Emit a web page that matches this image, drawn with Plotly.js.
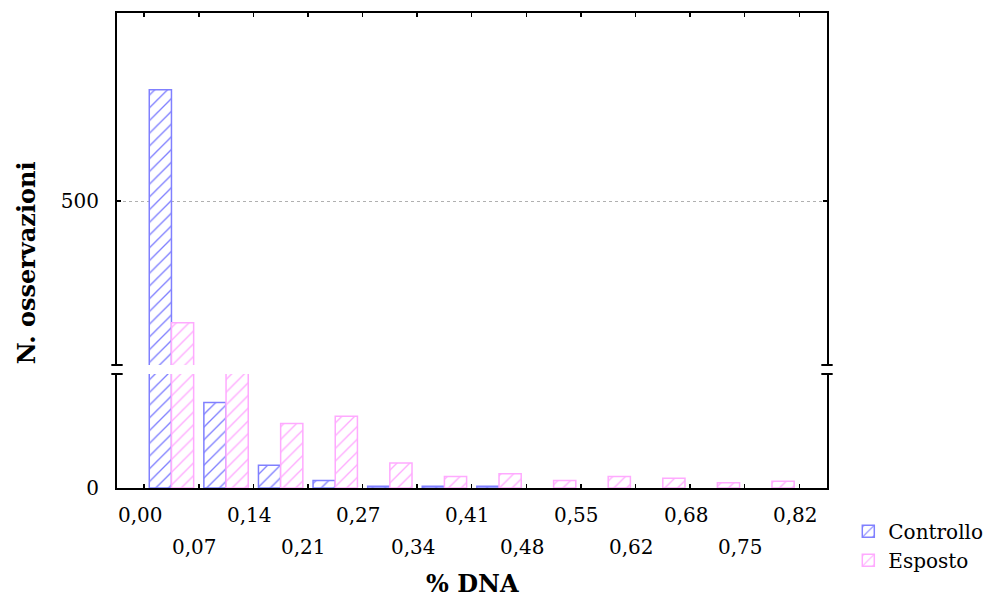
<!DOCTYPE html>
<html>
<head>
<meta charset="utf-8">
<script src="https://cdn.plot.ly/plotly-3.0.1.min.js"></script>
<style>html,body{margin:0;padding:0;background:#fff;}#chart{width:985px;height:597px;}</style>
</head>
<body>
<div id="chart"></div>
<script>
// Data
const binWidth = 0.82 / 12;
const binIndex = [0,1,2,3,4,5,6,7,8,9,10,11];
const controllo = [690, 150, 40, 13, 3, 3, 3, 0, 0, 0, 0, 0];
const esposto   = [292, 210, 113, 126, 44, 20, 25, 13, 20, 17, 9, 12];
const tickValues = [0,1,2,3,4,5,6,7,8,9,10,11,12].map(i => i * binWidth);
const tickLabels = ['0,00','0,07','0,14','0,21','0,27','0,34','0,41','0,48','0,55','0,62','0,68','0,75','0,82'];
const seriesNames = ['Controllo', 'Esposto'];

const binCenters = binIndex.map(i => (i + 0.5) * binWidth);
const FONT = 'DejaVu Serif, Georgia, serif';
const blue = '#8080ff', pink = '#ffaaff';

function barTrace(name, y, color, yaxis, showlegend) {
  return {
    type: 'bar', name: name, x: binCenters, y: y, yaxis: yaxis, xaxis: yaxis === 'y' ? 'x' : 'x2',
    showlegend: showlegend, legendgroup: name,
    marker: {
      color: '#ffffff',
      line: {color: color, width: y.map(v => v > 0 ? 1.5 : 0)},
      pattern: {shape: '/', fgcolor: color, bgcolor: '#ffffff', size: 9, solidity: 0.15}
    },
    hoverinfo: 'x+y'
  };
}

const data = [
  barTrace(seriesNames[0], controllo, blue, 'y2', true),
  barTrace(seriesNames[1], esposto, pink, 'y2', true),
  barTrace(seriesNames[0], controllo, blue, 'y', false),
  barTrace(seriesNames[1], esposto, pink, 'y', false)
];

const lowerTop = (488 - 374) / 475;
const upperBottom = (488 - 365) / 475;
const xr = [-0.034, 0.82 + 0.0347];

const annotations = tickValues.map((v, i) => ({
  x: v, xref: 'x', y: i % 2 === 0 ? -0.057 : -0.124, yref: 'paper',
  text: tickLabels[i], showarrow: false, xanchor: 'center', yanchor: 'middle', xshift: -4,
  font: {family: FONT, size: 20, color: '#000'}
}));
annotations.push({
  x: -0.127, xref: 'paper', y: 0.475, yref: 'paper', text: '<b>N. osservazioni</b>',
  textangle: -90, showarrow: false, xanchor: 'center', yanchor: 'middle',
  font: {family: FONT, size: 24, color: '#000'}
});
annotations.push({
  x: 0.5, xref: 'paper', y: -0.2, yref: 'paper', text: '<b>% DNA</b>',
  showarrow: false, xanchor: 'center', yanchor: 'middle',
  font: {family: FONT, size: 24, color: '#000'}
});

const capW = 0.008;
const shapes = [];
[0, 1].forEach(px => {
  [lowerTop, upperBottom].forEach(py => {
    shapes.push({type: 'line', xref: 'paper', yref: 'paper', x0: px - capW, x1: px + capW, y0: py, y1: py,
      line: {color: '#000', width: 2}});
  });
});

const layout = {
  width: 985, height: 597,
  margin: {l: 117, r: 158, t: 13, b: 109, autoexpand: false},
  paper_bgcolor: '#fff', plot_bgcolor: '#fff',
  font: {family: FONT, size: 20, color: '#000'},
  barmode: 'group', bargap: 0.187, bargroupgap: 0,
  xaxis: {
    anchor: 'y', range: xr, tickvals: tickValues, ticktext: tickLabels, showticklabels: false,
    ticks: 'inside', ticklen: 4, tickwidth: 1.5, tickcolor: '#000',
    showline: true, linecolor: '#000', linewidth: 2, showgrid: false, zeroline: false
  },
  xaxis2: {
    anchor: 'y2', matches: 'x', range: xr, side: 'top', tickvals: tickValues, showticklabels: false,
    ticks: 'inside', ticklen: 4, tickwidth: 1.5, tickcolor: '#000',
    showline: true, linecolor: '#000', linewidth: 2, showgrid: false, zeroline: false
  },
  yaxis: {
    domain: [0, lowerTop], range: [0, 200], tickvals: [0], ticktext: ['0'],
    ticks: 'inside', ticklen: 4, tickwidth: 1.5, tickcolor: '#000', ticklabelstandoff: 12,
    showline: true, mirror: 'ticks', linecolor: '#000', linewidth: 2, showgrid: false, zeroline: false,
    tickfont: {family: FONT, size: 20}
  },
  yaxis2: {
    domain: [upperBottom, 1], range: [220, 821], tickvals: [500], ticktext: ['500'],
    ticks: 'inside', ticklen: 4, tickwidth: 1.5, tickcolor: '#000', ticklabelstandoff: 12,
    showline: true, mirror: 'ticks', linecolor: '#000', linewidth: 2,
    showgrid: true, gridcolor: '#b0b0b0', griddash: 'dot', gridwidth: 1, zeroline: false,
    tickfont: {family: FONT, size: 20}
  },
  legend: {
    x: 1.030, y: -0.05, xanchor: 'left', yanchor: 'top', traceorder: 'normal',
    font: {family: FONT, size: 20}, bgcolor: 'rgba(0,0,0,0)', tracegroupgap: 0
  },
  annotations: annotations,
  shapes: shapes
};

Plotly.newPlot('chart', data, layout, {staticPlot: true, displayModeBar: false});
</script>
</body>
</html>
